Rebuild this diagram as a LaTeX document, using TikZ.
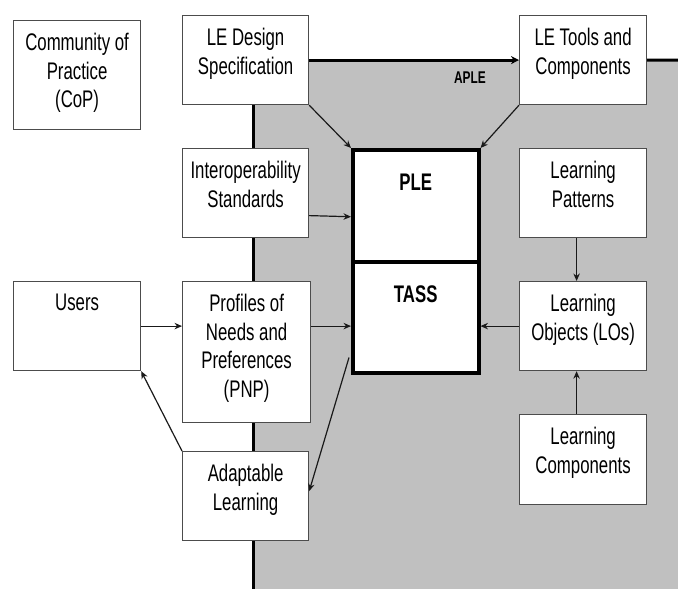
\documentclass[tikz,border=0pt]{standalone}
\usepackage{fontspec}
\setmainfont{Liberation Sans}[FakeStretch=0.70]
\usetikzlibrary{arrows.meta,calc}
\definecolor{bggray}{HTML}{C0C0C0}
\begin{document}
\begin{tikzpicture}[x=1pt,y=-1pt,
  bx/.style={draw=black!70, line width=1.2pt, fill=white, inner sep=0pt, anchor=north west, minimum width=126pt, minimum height=89pt},
  core/.style={draw=black, line width=3.5pt, fill=white, inner sep=0pt, anchor=north west, minimum width=126pt, minimum height=112pt},
  txt/.style={anchor=north, inner sep=0pt, align=center, font=\fontsize{24}{28.5}\selectfont},
  boldtxt/.style={anchor=north, inner sep=0pt, align=center, font=\fontsize{24}{28.5}\selectfont\bfseries},
  arr/.style={draw=black!90, line width=1.2pt, -{Stealth[length=7.5pt,width=6.5pt]}},
  border/.style={draw=black, line width=3pt}]
\useasboundingbox (0,0) rectangle (678,589);
\fill[bggray] (253,60) rectangle (678,589);
\coordinate (gtop) at (253,60);
\coordinate (gbot) at (253,589);
\coordinate (gright) at (678,60);
\draw[border] (gtop) -- (gbot);

% boxes
\node[bx, minimum width=127pt, minimum height=109pt] (cop) at (13,20) {};
\node[bx] (led) at (182,15) {};
\node[bx, minimum width=127pt] (lt) at (519,15) {};
\node[bx] (iop) at (182,148) {};
\node[core] (ple) at (351,148) {};
\node[core, minimum height=111pt] (tass) at (351,260) {};
\node[bx, minimum width=127pt] (lp) at (519,148) {};
\node[bx, minimum width=127pt] (users) at (13,281) {};
\node[bx, minimum width=128pt, minimum height=141pt] (pnp) at (182,281) {};
\node[bx, minimum width=127pt] (los) at (519,281) {};
\node[bx] (adl) at (182,451) {};
\node[bx, minimum width=127pt, minimum height=90pt] (lc) at (519,414) {};

% thick border lines
\draw[border, -{Stealth[length=8pt,width=8pt]}] (led.east) -- (lt.west);
\draw[border] (lt.east) -- (gright);

% texts
\node[txt] (copt) at ([yshift=-13pt]cop.north) {Community of\\Practice\\(CoP)};
\node[txt] (ledt) at ([yshift=-13pt]led.north) {LE Design\\Specification};
\node[txt] (ltt) at ([yshift=-13pt]lt.north) {LE Tools and\\Components};
\node[txt] (iopt) at ([yshift=-13pt]iop.north) {Interoperability\\Standards};
\node[boldtxt] (plet) at ([yshift=-26pt]ple.north) {PLE};
\node[boldtxt] (tasst) at ([yshift=-26pt]tass.north) {TASS};
\node[txt] (lpt) at ([yshift=-13pt]lp.north) {Learning\\Patterns};
\node[txt] (userst) at ([yshift=-13pt]users.north) {Users};
\node[txt] (pnpt) at ([yshift=-13pt]pnp.north) {Profiles of\\Needs and\\Preferences\\(PNP)};
\node[txt] (lost) at ([yshift=-13pt]los.north) {Learning\\Objects (LOs)};
\node[txt] (adlt) at ([yshift=-13pt]adl.north) {Adaptable\\Learning};
\node[txt] (lct) at ([yshift=-13pt]lc.north) {Learning\\Components};
\node[font=\fontsize{17}{19}\selectfont\bfseries, inner sep=0pt] (aple) at (470,77.5) {APLE};

% connectors
\draw[arr] (led.south east) -- (ple.north west);
\draw[arr] (lt.south west) -- (ple.north east);
\draw[arr] ([yshift=-22.5pt]iop.east) -- ([yshift=-11pt]ple.west);
\draw[arr] (users.east) -- (pnp.west |- users.east);
\draw[arr] (pnp.east |- users.east) -- (tass.west |- users.east);
\draw[arr] (los.west) -- (tass.east |- los.west);
\draw[arr] ([xshift=-6.5pt]lp.south) -- ([xshift=-6.5pt]los.north);
\draw[arr] ([xshift=-6.5pt]lc.north) -- ([xshift=-6.5pt]los.south);
\draw[arr] ([xshift=-2pt,yshift=17pt]tass.south west) -- ([yshift=5pt]adl.east);
\draw[arr] (adl.north west) -- (users.south east);
\end{tikzpicture}
\end{document}
